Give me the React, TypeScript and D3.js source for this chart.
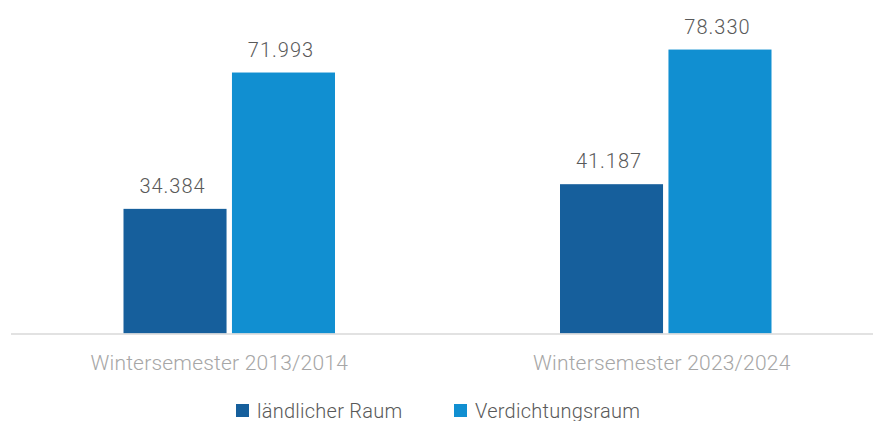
import React from "react";
import * as d3 from "d3";

const categories = ["Wintersemester 2013/2014", "Wintersemester 2023/2024"];
const seriesNames = ["ländlicher Raum", "Verdichtungsraum"];
const laendlich = [34384, 41187];
const verdichtung = [71993, 78330];
const colors = ["#165f9c", "#118fd1"];

const W = 873;
const H = 421;
const fmt = (v: number) => d3.format(",")(v).replace(/,/g, ".");

export default function App() {
  const values = [laendlich, verdichtung];
  const x0 = d3.scaleBand<string>().domain(categories).range([11, 884]).padding(0);
  const groupW = 211.5;
  const x1 = d3.scaleBand<string>().domain(seriesNames).range([0, groupW]).paddingInner(0.05).paddingOuter(0);
  const y = d3.scaleLinear().domain([0, 80000]).range([333.5, 43.5]);
  const font = "Roboto, 'Noto Sans', sans-serif";
  const catShift = [-10, -4];

  return (
    <svg width={W} height={H} style={{ position: "absolute", left: 0, top: 0, display: "block" }}>
      <rect width={W} height={H} fill="#ffffff" />
      {categories.map((c, ci) => {
        const gx = (x0(c) as number) + (x0.bandwidth() - groupW) / 2;
        return (
          <g key={c} transform={`translate(${gx},0)`}>
            {seriesNames.map((s, si) => {
              const v = values[si][ci];
              const bx = x1(s) as number;
              return (
                <g key={s}>
                  <rect x={bx} y={y(v)} width={x1.bandwidth()} height={y(0) - y(v)} fill={colors[si]} />
                  <text x={bx + x1.bandwidth() / 2 - 2.5} y={y(v) - 16} textAnchor="middle" fontFamily={font} fontWeight={300} fontSize={20} letterSpacing={1} fill="#595959">
                    {fmt(v)}
                  </text>
                </g>
              );
            })}
          </g>
        );
      })}
      <line x1={11} x2={884} y1={y(0) + 0.5} y2={y(0) + 0.5} stroke="#d9d9d9" strokeWidth={1.5} />
      {categories.map((c, ci) => (
        <text key={c} x={(x0(c) as number) + x0.bandwidth() / 2 + catShift[ci]} y={370} textAnchor="middle" fontFamily={font} fontWeight={300} fontSize={21} letterSpacing={0.2} fill="#a6a6a6">
          {c}
        </text>
      ))}
      {seriesNames.map((s, si) => {
        const lx = [236, 454][si];
        return (
          <g key={s}>
            <rect x={lx} y={404} width={13} height={13} fill={colors[si]} />
            <text x={lx + 21} y={417.5} fontFamily={font} fontWeight={300} fontSize={20} letterSpacing={0.25} fill="#595959">
              {s}
            </text>
          </g>
        );
      })}
    </svg>
  );
}
